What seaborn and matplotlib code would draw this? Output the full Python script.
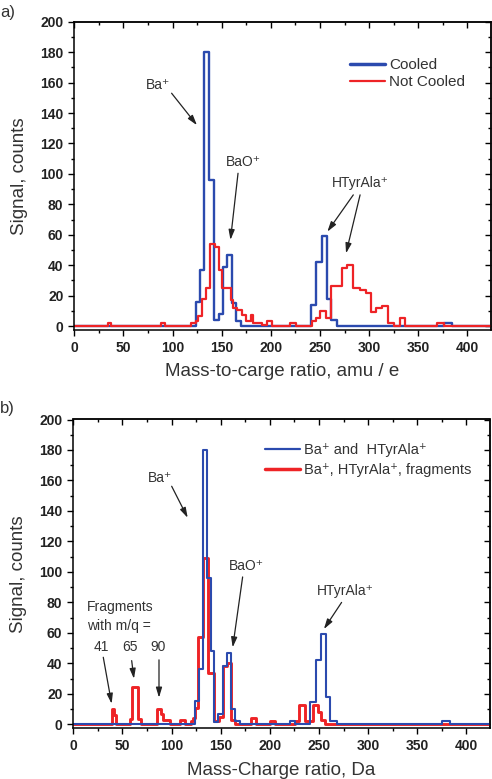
import numpy as np
import pandas as pd
import seaborn as sns
import matplotlib
matplotlib.use("Agg")
import matplotlib.pyplot as plt
from matplotlib.lines import Line2D
from matplotlib.ticker import MultipleLocator

# ================================
# 1. Data
# ================================
# bin edges (m/z) and counts per bin, one pair per trace

# a) cooled / not cooled
cooled_edges = [0, 123.5, 128.2, 131.5, 136.7, 141.8, 147.3, 151.4, 155.8, 160.9, 165, 170,
                240.5, 245.9, 251.7, 256.8, 260.9, 267, 375.8, 384, 424]
cooled_counts = [0, 16, 37, 180, 96, 4, 8, 39, 47, 15, 3, 0,
                 14, 42, 59, 18, 4, 0, 2, 0]

notcooled_edges = [0, 34, 37.4, 88.4, 92.5, 119, 123.5, 125.9, 130.3, 134.4,
                   138.4, 142.9, 147.3, 150.7, 159.2, 161.6, 165.6, 171.1, 175.2, 179.3,
                   182, 190.5, 195.6, 200.7, 219.4, 226, 241.5, 245.9, 250, 256,
                   260.9, 272, 277.9, 284, 290.8, 296.9, 301.7, 307, 312.9, 318.7,
                   325.5, 331.6, 336.7, 369, 375.8, 424]
notcooled_counts = [0, 2, 0, 2, 0, 2, 3, 6.5, 18, 25,
                    54, 52, 37, 25, 17, 12, 10.5, 7, 3, 7,
                    2, 0.5, 3, 0, 2, 0, 3.5, 5, 10, 5,
                    26, 38, 40, 25, 24, 22, 9.5, 12, 13, 2,
                    0, 5, 0, 2, 0]

# b) Ba+ and HTyrAla+ / with fragments
clean_edges = [0, 123.8, 128.2, 131.5, 135.7, 140.5, 143.6, 147.5, 152, 156.2, 160.5, 164.5, 169.6,
               220.3, 225.4, 240.8, 246.5, 251.7, 257, 261.5, 268, 375, 383.3, 424]
clean_counts = [0, 15, 36, 180, 96, 48, 1.5, 7, 38, 47, 10, 2.5, 0,
                2.5, 0, 14.6, 42, 59, 18, 2.5, 0, 2, 0]

frag_edges = [0, 39, 41.4, 43.4, 57.7, 60, 66.1, 68.5, 84.8, 89.2,
              91.6, 98.4, 108.5, 114, 119.4, 122, 124, 127.2, 131.5, 137,
              143.6, 148.5, 152, 156.2, 160.5, 164.5, 180.5, 185.5, 200, 205.5,
              225.4, 229.9, 236, 243.5, 248.5, 252, 256, 424]
frag_counts = [0, 10, 6, 0, 3.7, 24.4, 3.7, 0, 10, 7,
               3, 0, 3, 0, 2, 4, 11, 57, 109, 34,
               2.5, 5, 38, 40, 3, 0, 4, 0, 2.5, 0,
               2, 12.4, 2, 12.4, 8, 3, 0]

x_ticks = [0, 50, 100, 150, 200, 250, 300, 350, 400]
y_ticks = [0, 20, 40, 60, 80, 100, 120, 140, 160, 180, 200]

BLUE = "#2b4aae"
RED = "#ee2326"
TXT = "#333333"

# ================================
# 2. Style
# ================================
sns.set_theme(style="ticks")
plt.rcParams["font.family"] = ["Liberation Sans", "DejaVu Sans"]
plt.rcParams["axes.linewidth"] = 1.1


def draw_trace(ax, edges, counts, color, lw):
    e = np.asarray(edges, dtype=float)
    df = pd.DataFrame({"mz": (e[:-1] + e[1:]) / 2, "counts": counts})
    sns.histplot(data=df, x="mz", weights="counts", bins=list(edges),
                 element="step", fill=False, color=color, linewidth=lw, ax=ax)


def style_axes(ax, xlabel):
    ax.set_xlim(0, 423.5)
    ax.set_ylim(-2.6, 200)
    ax.set_xticks(x_ticks)
    ax.set_xticklabels([str(t) for t in x_ticks], fontweight="bold", fontsize=10, color="#222222")
    ax.set_yticks(y_ticks)
    ax.set_yticklabels([str(t) for t in y_ticks], fontweight="bold", fontsize=10, color="#222222")
    ax.xaxis.set_minor_locator(MultipleLocator(25))
    ax.yaxis.set_minor_locator(MultipleLocator(10))
    ax.tick_params(which="both", top=False, right=False, width=1.0, color="black",
                   direction="out")
    ax.tick_params(which="major", length=4.3, pad=3.5)
    ax.tick_params(which="minor", length=2.4)
    for side in ["top", "bottom", "left", "right"]:
        ax.spines[side].set_visible(True)
        ax.spines[side].set_color("black")

    # mirrored ticks on top / right point inwards
    top = ax.secondary_xaxis("top")
    top.set_xticks(x_ticks)
    top.xaxis.set_minor_locator(MultipleLocator(25))
    top.tick_params(which="both", direction="in", labeltop=False, width=1.0, color="black")
    top.tick_params(which="major", length=4.3)
    top.tick_params(which="minor", length=2.4)
    right = ax.secondary_yaxis("right")
    right.set_yticks(y_ticks)
    right.yaxis.set_minor_locator(MultipleLocator(10))
    right.tick_params(which="both", direction="in", labelright=False, width=1.0, color="black")
    right.tick_params(which="major", length=4.3)
    right.tick_params(which="minor", length=2.4)

    ax.set_xlabel(xlabel, fontsize=13.5, color=TXT)
    ax.set_ylabel("Signal, counts", fontsize=13.5, color=TXT)
    ax.yaxis.set_label_coords(-0.112, 0.5)
    ax.xaxis.set_label_coords(0.5, -0.108)


def arrow(ax, start, end):
    ax.annotate("", xy=end, xytext=start,
                arrowprops=dict(arrowstyle="-|>,head_length=0.6,head_width=0.18",
                                color="#222222", lw=0.9, mutation_scale=10,
                                shrinkA=0, shrinkB=0))


fig = plt.figure(figsize=(4.92, 7.79), dpi=100)
ax1 = fig.add_axes([74.3 / 492, 1 - 330 / 779, 416.2 / 492, 308.3 / 779])
ax2 = fig.add_axes([73.3 / 492, 1 - 728.3 / 779, 416.2 / 492, 308.8 / 779])

# ================================
# 3. Panel a)
# ================================
draw_trace(ax1, cooled_edges, cooled_counts, BLUE, 1.7)
draw_trace(ax1, notcooled_edges, notcooled_counts, RED, 1.6)
style_axes(ax1, "Mass-to-carge ratio, amu / e")

handles = [Line2D([], [], color=BLUE, lw=2.5), Line2D([], [], color=RED, lw=1.6)]
ax1.legend(handles, ["Cooled", "Not Cooled"], loc="upper left",
           bbox_to_anchor=(0.662, 0.882), frameon=False, fontsize=11,
           handlelength=2.3, handletextpad=0.25, borderpad=0, borderaxespad=0,
           labelspacing=0.2, labelcolor=TXT)

ann = dict(fontsize=10, color=TXT, ha="center", va="center")
ax1.text(84.7, 158.6, "Ba⁺", **ann)
arrow(ax1, (99, 153), (124.8, 132))
ax1.text(172.4, 108, "BaO⁺", **ann)
arrow(ax1, (166.6, 100.4), (158.9, 56.6))
ax1.text(290.8, 94, "HTyrAla⁺", **ann)
arrow(ax1, (283.9, 86.2), (257.5, 62))
arrow(ax1, (290.8, 86.2), (276.5, 47.8))

# ================================
# 4. Panel b)
# ================================
draw_trace(ax2, frag_edges, frag_counts, RED, 2.1)
draw_trace(ax2, clean_edges, clean_counts, BLUE, 1.5)
style_axes(ax2, "Mass-Charge ratio, Da")

handles = [Line2D([], [], color=BLUE, lw=1.6), Line2D([], [], color=RED, lw=2.5)]
ax2.legend(handles, ["Ba⁺ and  HTyrAla⁺", "Ba⁺, HTyrAla⁺, fragments"],
           loc="upper left", bbox_to_anchor=(0.4606, 0.925), frameon=False, fontsize=10.5,
           handlelength=2.4, handletextpad=0.25, borderpad=0, borderaxespad=0,
           labelspacing=0.45, labelcolor=TXT)

ax2.text(88.2, 161.6, "Ba⁺", **ann)
arrow(ax2, (100.1, 156.2), (116.4, 135.5))
ax2.text(176.4, 103.9, "BaO⁺", **ann)
arrow(ax2, (172.3, 96.7), (162.2, 50.5))
ax2.text(276.4, 87.6, "HTyrAla⁺", **ann)
arrow(ax2, (273, 80), (255, 62.5))

ax2.text(14.2, 76.7, "Fragments", fontsize=10, color=TXT, ha="left", va="center")
ax2.text(14.2, 64.7, "with m/q =", fontsize=10, color=TXT, ha="left", va="center")
ax2.text(28.9, 51, "41", **ann)
ax2.text(57.7, 51, "65", **ann)
ax2.text(85.9, 51, "90", **ann)
arrow(ax2, (30.5, 44), (39, 13.5))
arrow(ax2, (59.4, 41.8), (61.7, 29.9))
arrow(ax2, (87.2, 42.3), (87.2, 17.5))

# panel letters
fig.text(0.0, 1 - 12 / 779, "a)", fontsize=12, color=TXT, ha="left", va="center")
fig.text(0.0, 1 - 408 / 779, "b)", fontsize=12, color=TXT, ha="left", va="center")

fig.savefig("out.png", dpi=100)
plt.close(fig)
